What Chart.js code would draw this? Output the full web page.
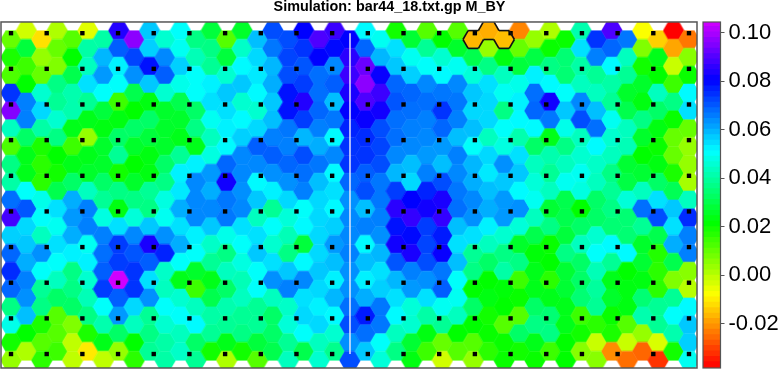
<!DOCTYPE html>
<html>
<head>
<meta charset="utf-8">
<title>M_BY</title>
<script src="https://cdn.jsdelivr.net/npm/chart.js@4"></script>
<style>
  html, body { margin: 0; padding: 0; background: #fff; overflow: hidden; }
  canvas { position: absolute; top: 0; }
  #hexChart { left: 0; }
  #barChart { left: 700px; }
</style>
</head>
<body>
<canvas id="hexChart" width="778" height="369"></canvas>
<canvas id="barChart" width="83" height="369"></canvas>
<script>
// one list per hex column, top to bottom
const hexColumns = [
  [.009,.018,.012,.074,.095,.043,.012,.036,.040,.067,.088,.056,.068,.075,.068,.036,.048,.019,.004],
  [-.003,.028,.014,.021,.065,.065,.033,.024,.024,.050,.070,.055,.057,.060,.065,.063,.058,.021,.001],
  [-.012,.004,.009,.045,.055,.040,.018,.016,.016,.048,.050,.043,.063,.050,.038,.036,.018,.011,.016],
  [.001,.009,.006,.036,.038,.045,.036,.021,.019,.030,.054,.049,.054,.050,.043,.033,.011,.011,.014],
  [.011,.021,.030,.041,.041,.024,.014,.024,.033,.060,.062,.060,.052,.036,.036,.033,.006,-.001,-.001],
  [-.005,.040,.043,.054,.038,.024,.004,.024,.026,.043,.065,.065,.049,.052,.045,.042,.036,.018,-.011],
  [.040,.059,.062,.050,.028,.023,.026,.026,.033,.038,.047,.065,.067,.069,.073,.050,.041,.024,-.001],
  [.084,.069,.052,.050,.014,.023,.033,.038,.019,.036,.023,.054,.073,.073,.104,.069,.062,.033,.004],
  [.096,.072,.063,.030,.021,.033,.026,.021,.026,.036,.046,.064,.070,.074,.074,.055,.043,.021,.016],
  [.057,.056,.078,.057,.023,.033,.028,.023,.023,.038,.036,.057,.083,.069,.054,.063,.038,.036,.038],
  [.045,.064,.069,.045,.026,.026,.026,.033,.036,.047,.049,.063,.076,.044,.043,.050,.045,.040,.040],
  [.050,.049,.056,.048,.030,.026,.024,.038,.052,.053,.060,.054,.060,.050,.024,.045,.050,.043,.044],
  [.036,.042,.050,.050,.033,.036,.024,.052,.064,.064,.064,.052,.050,.026,.014,.043,.051,.033,.038],
  [.028,.036,.038,.052,.054,.049,.043,.047,.062,.060,.064,.057,.044,.038,.024,.030,.040,.038,.019],
  [.011,.028,.045,.057,.054,.052,.051,.068,.082,.066,.066,.048,.036,.043,.033,.041,.038,.024,.001],
  [.026,.044,.051,.057,.045,.051,.056,.064,.064,.063,.064,.054,.050,.047,.042,.043,.038,.036,.019],
  [.058,.055,.053,.051,.045,.055,.069,.064,.051,.057,.043,.054,.057,.050,.050,.038,.038,.028,.011],
  [.071,.066,.059,.060,.057,.058,.065,.069,.063,.052,.038,.050,.045,.054,.063,.043,.033,.033,.030],
  [.071,.072,.071,.078,.078,.066,.065,.068,.063,.055,.046,.042,.036,.057,.065,.044,.046,.038,.043],
  [.080,.074,.070,.073,.084,.073,.059,.071,.067,.065,.050,.051,.028,.051,.064,.054,.055,.050,.030],
  [.089,.080,.067,.067,.068,.065,.060,.066,.058,.055,.055,.055,.055,.057,.055,.052,.055,.043,.045],
  [.087,.079,.064,.069,.058,.066,.051,.064,.051,.054,.051,.056,.062,.058,.052,.059,.051,.045,.037],
  [.080,.085,.087,.083,.080,.076,.074,.074,.068,.063,.064,.064,.065,.063,.063,.067,.071,.063,.071],
  [.051,.068,.092,.096,.089,.081,.075,.074,.069,.071,.058,.065,.051,.058,.052,.060,.077,.067,.057],
  [.049,.059,.081,.087,.082,.071,.072,.071,.066,.066,.065,.063,.059,.054,.056,.066,.066,.050,.046],
  [.019,.054,.057,.068,.070,.067,.067,.064,.059,.073,.085,.078,.082,.070,.059,.054,.051,.043,.036],
  [.027,.049,.056,.068,.067,.065,.064,.058,.055,.080,.086,.079,.083,.065,.062,.046,.045,.027,.023],
  [.011,.038,.050,.064,.067,.065,.064,.062,.065,.076,.082,.073,.072,.071,.063,.054,.040,.023,.014],
  [.021,.045,.051,.066,.074,.068,.062,.058,.071,.083,.086,.077,.081,.066,.069,.049,.038,.009,-.003],
  [.011,.026,.049,.064,.066,.065,.058,.065,.064,.066,.067,.058,.054,.058,.050,.049,.043,.021,.011],
  [-.017,.030,.046,.057,.055,.058,.050,.059,.060,.064,.063,.054,.038,.036,.021,.033,.021,.011,.004],
  [-.018,.004,.036,.054,.055,.055,.043,.055,.053,.058,.060,.052,.043,.033,.021,.023,.019,.020,.016],
  [-.016,.023,.043,.049,.036,.050,.047,.063,.057,.062,.062,.045,.036,.040,.022,.021,.011,.020,.020],
  [-.023,.009,.028,.048,.052,.051,.041,.054,.057,.051,.063,.046,.026,.036,.014,.020,.011,.033,.019],
  [.004,.029,.052,.067,.068,.051,.033,.043,.046,.049,.043,.030,.022,.024,.024,.033,.036,.024,.020],
  [.001,.020,.036,.051,.082,.066,.024,.041,.038,.043,.027,.036,.020,.021,.016,.024,.034,.036,.014],
  [.020,.034,.034,.050,.057,.048,.036,.043,.049,.030,.030,.028,.036,.027,.027,.024,.024,.021,.021],
  [.041,.054,.040,.043,.064,.071,.043,.045,.049,.047,.021,.033,.043,.033,.033,.034,.014,.019,.005],
  [.074,.065,.038,.043,.058,.067,.051,.044,.043,.033,.033,.045,.050,.042,.039,.038,.016,-.002,.005],
  [.089,.068,.051,.040,.038,.049,.045,.043,.036,.038,.036,.034,.051,.038,.024,.026,.020,.018,-.022],
  [.066,.043,.038,.026,.030,.043,.042,.027,.029,.046,.034,.034,.051,.021,.023,.023,.011,-.002,-.025],
  [-.008,.006,.019,.026,.023,.036,.026,.021,.027,.043,.067,.038,.026,.027,.023,.034,.041,.004,-.026],
  [-.014,.024,.021,.043,.033,.023,.020,.023,.033,.054,.071,.030,.017,.016,.016,.038,.038,-.004,-.032],
  [-.038,-.019,-.002,.014,.036,.020,.009,.009,.018,.031,.057,.054,.060,.030,.006,.038,.050,.041,.019],
  [-.024,.005,.020,.051,.054,.009,.004,.004,.002,.043,.075,.065,.065,.005,.000,.051,.057,.056,.049]
];
// the three outlined cells at the top, as [column, row in column]
const outlinedCells = [[30, 0], [31, 0], [32, 0]];
// black markers, in hex column / hex row units
const dotColumns = [0, 2.316, 4.632, 6.947, 9.263, 11.579, 13.895, 16.211, 18.526, 20.842, 23.158, 25.474, 27.789, 30.105, 32.421, 34.737, 37.053, 39.368, 41.684, 44];
const dotRows = [-0.354, 1.646, 3.646, 5.646, 7.646, 9.646, 11.646, 13.646, 15.646, 17.646];
const lineColumn = 22;
const title = 'Simulation: bar44_18.txt.gp M_BY';
const barTicks = [-0.02, 0, 0.02, 0.04, 0.06, 0.08, 0.10];
const barMin = -0.0382;
const barMax = 0.1045;

const hueOf = v => Math.max(0, Math.min(290, (v + 0.038) * 2035));
const colorOf = v => `hsl(${hueOf(v).toFixed(0)}, 100%, 50%)`;

// hexagon sprites for pointStyle, one per colour
const HEX_R = 10.3;
const sprites = {};
function hexSprite(v) {
  const key = colorOf(v);
  if (sprites[key]) return sprites[key];
  const c = document.createElement('canvas');
  c.width = 22;
  c.height = 20;
  const g = c.getContext('2d');
  g.fillStyle = key;
  g.beginPath();
  for (let i = 0; i < 6; i++) {
    const a = i * Math.PI / 3;
    g.lineTo(11 + (HEX_R + 0.4) * Math.cos(a), 10 + (HEX_R + 0.4) * Math.sin(a));
  }
  g.closePath();
  g.fill();
  sprites[key] = c;
  return c;
}

const cellY = (col, row) => (col % 2 ? row - 0.5 : row);

const cells = [];
hexColumns.forEach((values, col) => {
  values.forEach((v, row) => cells.push({ x: col, y: cellY(col, row), v }));
});

const dots = [];
dotRows.forEach(y => dotColumns.forEach(x => dots.push({ x, y })));

const framePlugin = {
  id: 'frame',
  afterDraw(chart, args, opts) {
    const { ctx, chartArea: a } = chart;
    ctx.save();
    ctx.strokeStyle = opts.color || '#555';
    ctx.lineWidth = opts.width || 1.5;
    ctx.strokeRect(a.left, a.top, a.right - a.left, a.bottom - a.top);
    ctx.restore();
  }
};

// outer edges of the highlighted group of cells
const outlinePlugin = {
  id: 'cellOutline',
  afterDatasetsDraw(chart) {
    const { ctx, chartArea: a, scales } = chart;
    const centers = outlinedCells.map(([col, row]) => ({
      x: scales.x.getPixelForValue(col),
      y: scales.y.getPixelForValue(cellY(col, row))
    }));
    const apothem = HEX_R * Math.sqrt(3) / 2;
    ctx.save();
    ctx.beginPath();
    ctx.rect(a.left, a.top, a.right - a.left, a.bottom - a.top);
    ctx.clip();
    ctx.strokeStyle = '#111';
    ctx.lineWidth = 1.6;
    ctx.lineJoin = 'round';
    centers.forEach(c => {
      for (let i = 0; i < 6; i++) {
        const mid = (i + 0.5) * Math.PI / 3;
        const nx = c.x + 2 * apothem * Math.cos(mid);
        const ny = c.y + 2 * apothem * Math.sin(mid);
        if (centers.some(o => Math.hypot(o.x - nx, o.y - ny) < 4)) continue;
        const a0 = i * Math.PI / 3, a1 = (i + 1) * Math.PI / 3;
        ctx.beginPath();
        ctx.moveTo(c.x + HEX_R * Math.cos(a0), c.y + HEX_R * Math.sin(a0));
        ctx.lineTo(c.x + HEX_R * Math.cos(a1), c.y + HEX_R * Math.sin(a1));
        ctx.stroke();
      }
    });
    ctx.restore();
  }
};

new Chart(document.getElementById('hexChart'), {
  type: 'scatter',
  data: {
    datasets: [
      {
        label: 'markers',
        data: dots,
        order: 1,
        clip: 0,
        pointStyle: 'rect',
        pointRadius: 3.1,
        pointBorderWidth: 0,
        backgroundColor: '#000'
      },
      {
        label: 'bar',
        data: [{ x: lineColumn, y: dotRows[0] }, { x: lineColumn, y: dotRows[dotRows.length - 1] }],
        order: 2,
        clip: 0,
        showLine: true,
        pointRadius: 0,
        borderColor: 'rgba(235, 235, 250, 0.9)',
        borderWidth: 1.6
      },
      {
        label: 'M_BY',
        data: cells,
        order: 3,
        clip: 0,
        pointRadius: 10,
        pointBorderWidth: 0,
        pointStyle: ctx => hexSprite(ctx.raw ? ctx.raw.v : 0)
      }
    ]
  },
  options: {
    responsive: false,
    animation: false,
    events: [],
    layout: { autoPadding: false, padding: { left: 1, right: 0, top: 0, bottom: 1 } },
    plugins: {
      legend: { display: false },
      tooltip: { enabled: false },
      frame: { color: '#555', width: 1.5 },
      title: {
        display: true,
        text: title,
        color: '#000',
        font: { family: '"Liberation Sans", Arial, sans-serif', size: 14.4, weight: 'bold' },
        padding: { top: -2, bottom: 6.7 }
      }
    },
    scales: {
      x: { type: 'linear', display: false, min: -0.649, max: 44.52 },
      y: { type: 'linear', display: false, reverse: true, min: -0.983, max: 18.43 },
      // empty axis, keeps the plot clear of the colour bar while the title stays centred on the canvas
      spacer: {
        axis: 'y',
        position: 'right',
        ticks: { display: false },
        grid: { display: false },
        border: { display: false },
        afterFit: axis => { axis.width = 81; }
      }
    }
  },
  plugins: [framePlugin, outlinePlugin]
});

// colour bar, a stack of floating bars on a real value axis
const barLevels = 64;
const barSets = [];
for (let i = 0; i < barLevels; i++) {
  const lo = barMin + (barMax - barMin) * i / barLevels;
  const hi = barMin + (barMax - barMin) * (i + 1) / barLevels;
  barSets.push({
    data: [[lo, hi + 0.0004]],
    backgroundColor: colorOf((lo + hi) / 2),
    borderWidth: 0,
    grouped: false,
    barPercentage: 1,
    categoryPercentage: 1
  });
}

new Chart(document.getElementById('barChart'), {
  type: 'bar',
  data: { labels: ['M_BY'], datasets: barSets },
  options: {
    responsive: false,
    animation: false,
    events: [],
    layout: { autoPadding: false, padding: { left: 3, right: 0, top: 22, bottom: 1 } },
    plugins: {
      legend: { display: false },
      tooltip: { enabled: false },
      frame: { color: '#555', width: 1.2 }
    },
    scales: {
      x: { display: false },
      y: {
        position: 'right',
        min: barMin,
        max: barMax,
        afterBuildTicks: axis => { axis.ticks = barTicks.map(value => ({ value })); },
        afterFit: axis => { axis.width = 62.5; axis.paddingTop = 0; axis.paddingBottom = 0; },
        grid: { drawOnChartArea: false, color: '#555', tickLength: 4 },
        border: { display: false },
        ticks: {
          autoSkip: false,
          maxRotation: 0,
          padding: 4,
          color: '#000',
          font: { family: '"Liberation Sans", Arial, sans-serif', size: 22 },
          callback: v => Number(v).toFixed(2)
        }
      }
    }
  },
  plugins: [framePlugin]
});
</script>
</body>
</html>
